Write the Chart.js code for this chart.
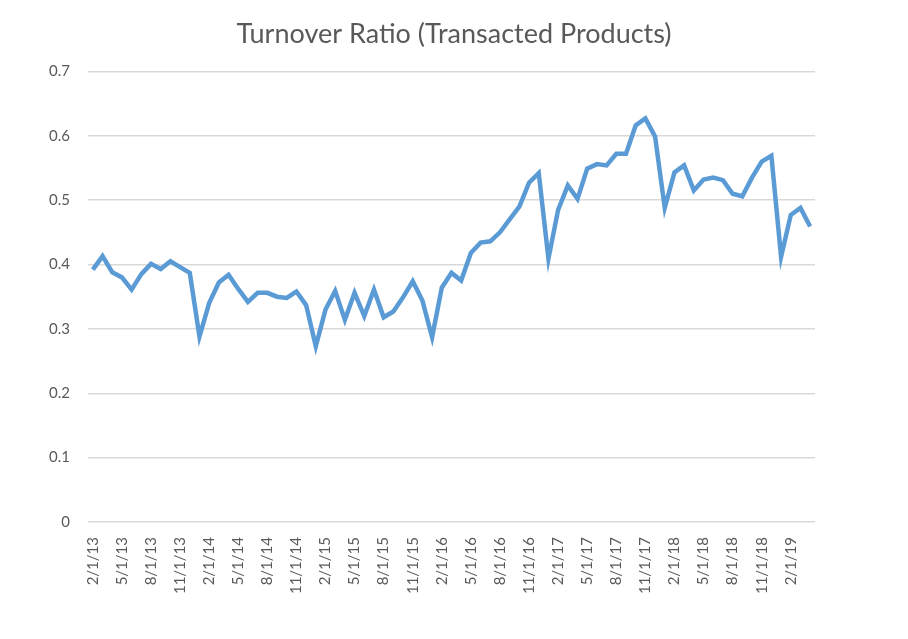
<!DOCTYPE html>
<html>
<head>
<meta charset="utf-8">
<script src="https://cdn.jsdelivr.net/npm/chart.js@4"></script>
<style>
  html, body { margin: 0; padding: 0; background: #fff; }
  #wrap { width: 908px; height: 639px; }
</style>
</head>
<body>
<div id="wrap"><canvas id="turnoverChart"></canvas></div>
<script>
// mesi dal 2/1/13 al 4/1/19
const years = [13, 14, 15, 16, 17, 18, 19];
const firstMonth = 2;
const pointCount = 75;
const labelEvery = 3;

// rapporto di turnover
const turnover = [
  0.392, 0.413, 0.388, 0.380, 0.361, 0.385, 0.401, 0.393, 0.405, 0.396,
  0.387, 0.288, 0.340, 0.372, 0.384, 0.362, 0.342, 0.356, 0.356, 0.350,
  0.348, 0.358, 0.337, 0.273, 0.330, 0.359, 0.314, 0.356, 0.320, 0.361,
  0.318, 0.327, 0.349, 0.374, 0.344, 0.287, 0.364, 0.387, 0.375, 0.418,
  0.434, 0.436, 0.450, 0.470, 0.490, 0.527, 0.542, 0.409, 0.485, 0.523,
  0.502, 0.549, 0.556, 0.554, 0.572, 0.572, 0.616, 0.627, 0.599, 0.488,
  0.543, 0.554, 0.515, 0.532, 0.535, 0.531, 0.510, 0.506, 0.535, 0.560,
  0.569, 0.412, 0.477, 0.488, 0.459
];

const yTicks = [0, 0.1, 0.2, 0.3, 0.4, 0.5, 0.6, 0.7];

// etichette delle date nel formato m/1/yy
const labels = [];
for (let i = 0; i < pointCount; i++) {
    const m = (firstMonth - 1 + i) % 12 + 1;
    const y = years[Math.floor((firstMonth - 1 + i) / 12)];
    labels.push(m + '/1/' + y);
}

const textColor = '#595959';
const fontFamily = "Lato, 'Open Sans', sans-serif";

new Chart(document.getElementById('turnoverChart'), {
    type: 'line',
    data: {
        labels: labels,
        datasets: [{
            label: 'Turnover Ratio',
            data: turnover,
            borderColor: '#5b9bd5',
            backgroundColor: '#5b9bd5',
            borderWidth: 4.5,
            pointRadius: 0,
            tension: 0,
            fill: false
        }]
    },
    options: {
        responsive: true,
        maintainAspectRatio: false,
        animation: false,
        layout: { padding: 0 },
        plugins: {
            legend: { display: false },
            tooltip: { enabled: false },
            title: {
                display: true,
                text: 'Turnover Ratio (Transacted Products)',
                color: textColor,
                font: { family: fontFamily, size: 27, weight: 'normal' },
                padding: { top: 18, bottom: 21 }
            }
        },
        scales: {
            x: {
                offset: true,
                grid: { display: false },
                border: { display: false },
                ticks: {
                    autoSkip: false,
                    maxRotation: 90,
                    minRotation: 90,
                    color: textColor,
                    font: { family: fontFamily, size: 15 },
                    padding: 7,
                    callback: function (val, idx) {
                        return idx % labelEvery === 0 ? this.getLabelForValue(val) : '';
                    }
                },
                afterFit: scale => { scale.height = 117; }
            },
            y: {
                min: yTicks[0],
                max: yTicks[yTicks.length - 1],
                afterBuildTicks: scale => { scale.ticks = yTicks.map(v => ({ value: v })); },
                grid: { color: '#d9d9d9', lineWidth: 1.5, drawTicks: false },
                border: { display: false },
                ticks: {
                    color: textColor,
                    font: { family: fontFamily, size: 15 },
                    padding: 18,
                    callback: v => String(Math.round(v * 10) / 10)
                },
                afterFit: scale => { scale.width = 88; }
            },
            // asse vuoto a destra per lasciare il margine come nell'originale
            yRight: {
                position: 'right',
                min: 0,
                max: 0.7,
                grid: { display: false },
                border: { display: false },
                ticks: { display: false },
                afterFit: scale => { scale.width = 93; }
            }
        }
    }
});
</script>
</body>
</html>
